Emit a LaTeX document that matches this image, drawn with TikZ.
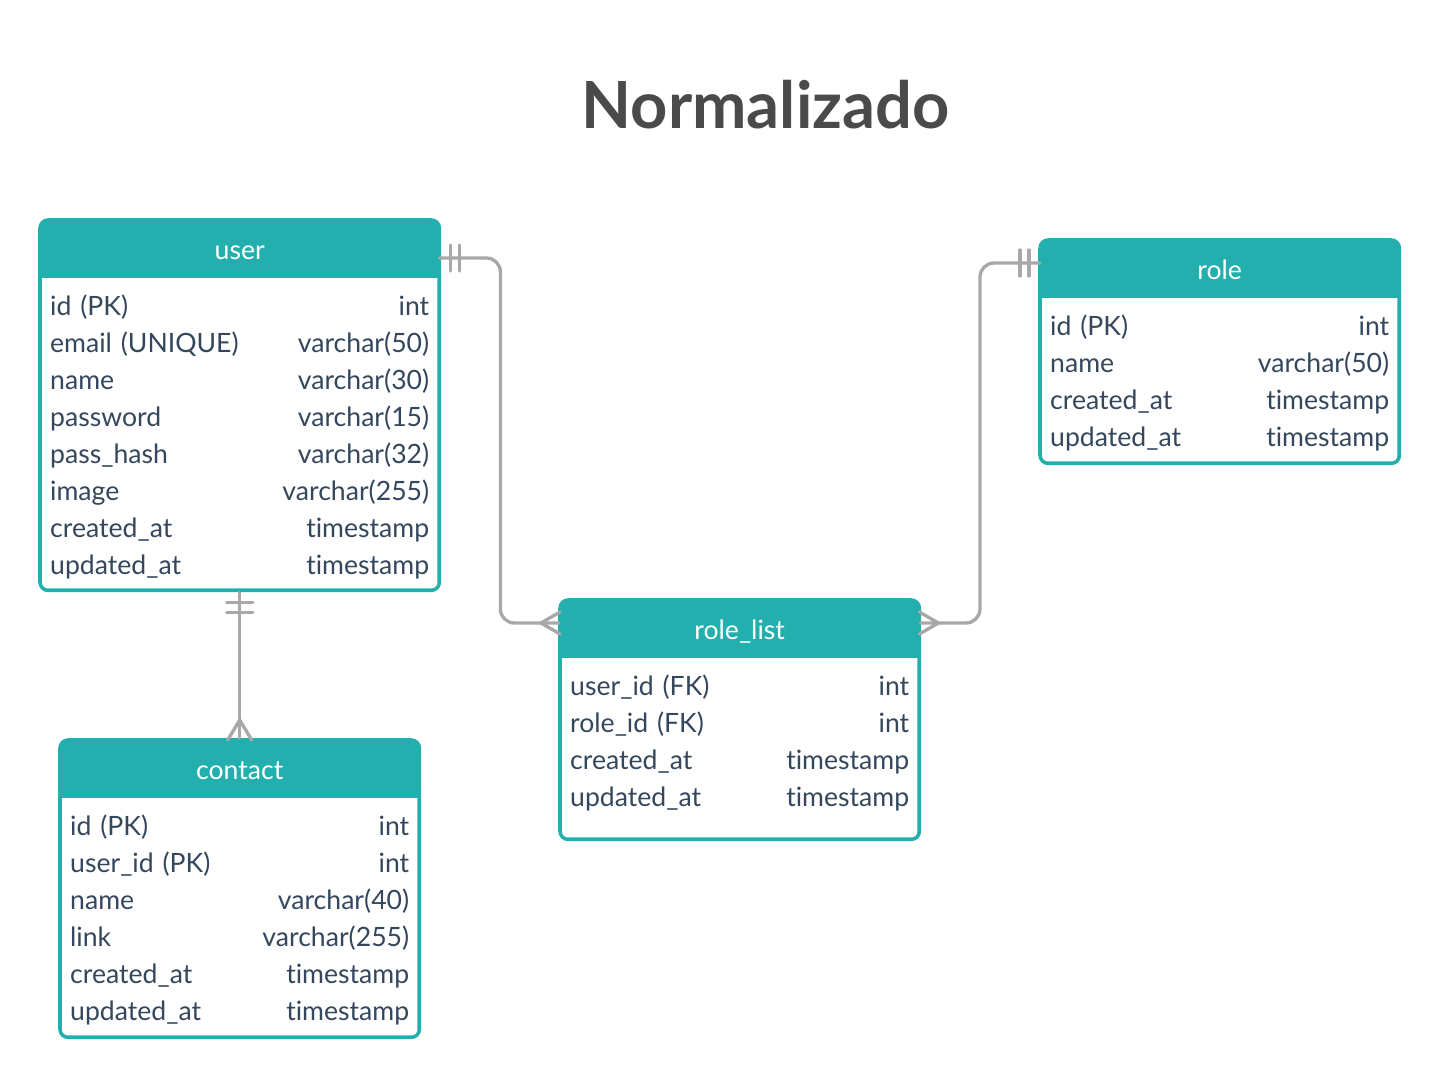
\documentclass[tikz,border=0pt]{standalone}
\usepackage{fontspec}
\setmainfont{Lato}[Ligatures=NoCommon]
\usepackage{tikz}
\usetikzlibrary{matrix}

\definecolor{teal}{HTML}{23AFAE}
\definecolor{ink}{HTML}{34475C}
\definecolor{titlegray}{HTML}{4A4A4A}
\definecolor{linkgray}{HTML}{A8A8A8}

\newcommand{\rowfont}{\fontsize{26.6}{30}\selectfont}

\tikzset{
  tablebox/.style={fill=teal, rounded corners=10pt, inner sep=0pt, anchor=north west},
  head/.style={font=\rowfont, text=white, anchor=base, inner sep=0pt},
  rows/.style={matrix of nodes, anchor=north west, inner sep=0pt, row sep=0pt, column sep=0pt,
    nodes={inner sep=0pt, text height=24pt, text depth=13pt, font=\rowfont, text=ink},
    column 1/.style={nodes={text width=#1, align=left}}},
  types/.style={column 2/.style={nodes={text width=#1, align=right}}},
  link/.style={draw=linkgray, line width=3.3pt, line cap=round}
}

\begin{document}
\begin{tikzpicture}[x=1pt, y=-1pt]
\useasboundingbox[fill=white] (0,0) rectangle (1440,1078);

\node[font=\fontsize{65}{76}\bfseries, text=titlegray, anchor=base, inner sep=0pt] (title) at (765.5,129) {Normalizado};

% tables
\node[tablebox, minimum width=403pt, minimum height=374pt] (user) at (38,218) {};
\node[tablebox, minimum width=363pt, minimum height=227pt] (role) at (1038,238) {};
\node[tablebox, minimum width=363pt, minimum height=243pt] (rolelist) at (558,598) {};
\node[tablebox, minimum width=363pt, minimum height=301pt] (contact) at (58,738) {};

\foreach \t in {user, role, rolelist, contact}
  \fill[white] ([shift={(4,60)}]\t.north west) [rounded corners=6pt] -- ([shift={(4,-4)}]\t.south west)
    -- ([shift={(-4,-4)}]\t.south east) [sharp corners] -- ([shift={(-4,60)}]\t.north east) -- cycle;

\node[head] (user-head) at ([shift={(0,41)}]user.north) {user};
\node[head] (role-head) at ([shift={(0,41)}]role.north) {role};
\node[head] (rolelist-head) at ([shift={(0,41)}]rolelist.north) {role\_list};
\node[head] (contact-head) at ([shift={(0,41)}]contact.north) {contact};

\matrix (user-rows) [rows=190pt, types=189pt] at ([shift={(12,73)}]user.north west) {
id (PK) & int \\
email (UNIQUE) & varchar(50) \\
name & varchar(30) \\
password & varchar(15) \\
pass\_hash & varchar(32) \\
image & varchar(255) \\
created\_at & timestamp \\
updated\_at & timestamp \\
};
\matrix (role-rows) [rows=170pt, types=169pt] at ([shift={(12,73)}]role.north west) {
id (PK) & int \\
name & varchar(50) \\
created\_at & timestamp \\
updated\_at & timestamp \\
};
\matrix (rolelist-rows) [rows=170pt, types=169pt] at ([shift={(12,73)}]rolelist.north west) {
user\_id (FK) & int \\
role\_id (FK) & int \\
created\_at & timestamp \\
updated\_at & timestamp \\
};
\matrix (contact-rows) [rows=170pt, types=169pt] at ([shift={(12,73)}]contact.north west) {
id (PK) & int \\
user\_id (PK) & int \\
name & varchar(40) \\
link & varchar(255) \\
created\_at & timestamp \\
updated\_at & timestamp \\
};

% relations
\coordinate (user-e) at ([shift={(-2,40)}]user.north east);
\coordinate (role-w) at ([shift={(2,25)}]role.north west);
\coordinate (rolelist-w) at ([shift={(1,25)}]rolelist.north west);
\coordinate (rolelist-e) at ([shift={(-1,25)}]rolelist.north east);

\draw[link, rounded corners=14pt] (user-e) -- ++(61,0) |- (rolelist-w);
\draw[link, rounded corners=14pt] (role-w) -- ++(-60,0) |- (rolelist-e);
\draw[link] (user.south) -- (contact.north);

\draw[link] ([shift={(11,-13)}]user-e) -- ++(0,26);
\draw[link] ([shift={(20,-13)}]user-e) -- ++(0,26);
\draw[link] ([shift={(-20,-13)}]role-w) -- ++(0,26);
\draw[link] ([shift={(-11,-13)}]role-w) -- ++(0,26);
\draw[link] ([shift={(-13,10)}]user.south) -- ++(26,0);
\draw[link] ([shift={(-13,20)}]user.south) -- ++(26,0);

\draw[link] ([shift={(1,-11)}]rolelist-w) -- ++(-19,11) -- ([shift={(1,11)}]rolelist-w);
\draw[link] ([shift={(-1,-11)}]rolelist-e) -- ++(19,11) -- ([shift={(-1,11)}]rolelist-e);
\draw[link] ([shift={(-12,2)}]contact.north) -- ++(12,-20) -- ([shift={(12,2)}]contact.north);
\end{tikzpicture}
\end{document}
